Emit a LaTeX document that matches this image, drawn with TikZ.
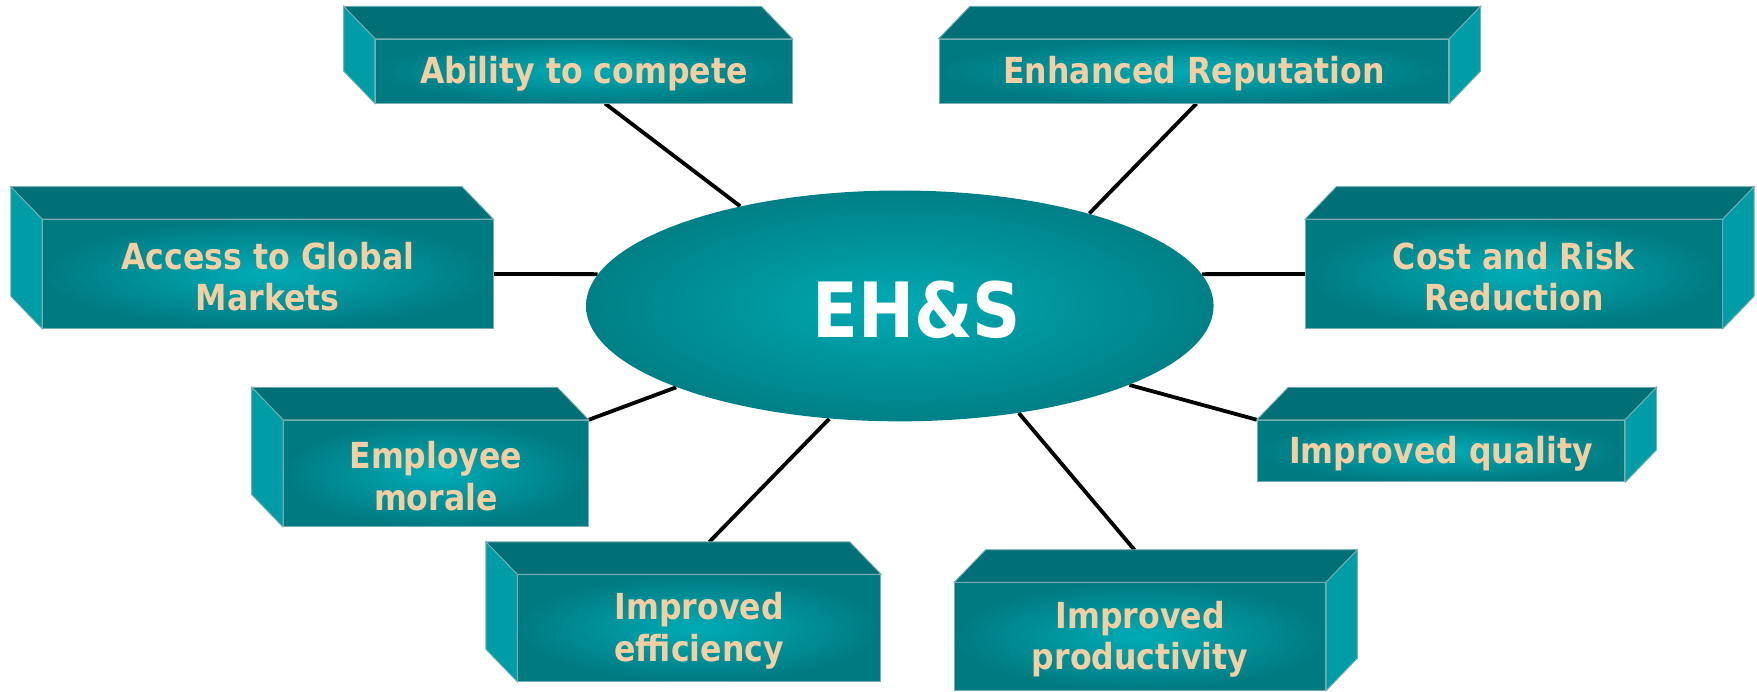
\documentclass[tikz,border=0pt]{standalone}
\usepackage{fontspec}
\newfontfamily\boxfont[FakeStretch=0.88]{DejaVu Sans}
\usetikzlibrary{shapes.geometric,calc,backgrounds}
\definecolor{topc}{RGB}{0,112,118}
\definecolor{sidec}{RGB}{0,157,166}
\definecolor{fcin}{RGB}{0,172,182}
\definecolor{fcout}{RGB}{0,122,129}
\definecolor{elin}{RGB}{0,170,180}
\definecolor{elout}{RGB}{0,128,134}
\definecolor{peach}{RGB}{245,207,164}
\definecolor{edgec}{RGB}{120,175,180}
\pgfdeclareradialshading{frontsh}{\pgfpointorigin}{color(0bp)=(fcin); color(25bp)=(fcout); color(50bp)=(fcout)}
\pgfdeclareradialshading{ellsh}{\pgfpointorigin}{color(0bp)=(elin); color(25bp)=(elout); color(50bp)=(elout)}
\tikzset{
  front/.style={rectangle, inner sep=0pt, shading=frontsh, draw=edgec, line width=0.4pt,
    text=peach, font=\boxfont\bfseries\fontsize{16}{18.5}\selectfont, align=center},
  topface/.style={fill=topc, draw=edgec, line width=0.4pt},
  sideface/.style={fill=sidec, draw=edgec, line width=0.4pt},
  link/.style={line width=1.7pt, black},
  hub/.style={ellipse, inner sep=0pt, shading=ellsh, minimum width=280pt, minimum height=103pt},
  hublabel/.style={text=white, font=\boxfont\bfseries\fontsize{34}{40}\selectfont, inner sep=0pt}
}
\newcommand\leftprism[6]{%
  \node[front, minimum width=#4*0.5pt, minimum height=#5*0.5pt] (#1) at (#2,#3) {\rule{0pt}{14.5pt}#6};
  \draw[topface] (#1.north west) -- ++(-14pt,14.5pt) -- ([shift={(-14pt,14.5pt)}]#1.north east) -- (#1.north east) -- cycle;
  \draw[sideface] (#1.north west) -- ++(-14pt,14.5pt) -- ([shift={(-14pt,14.5pt)}]#1.south west) -- (#1.south west) -- cycle;
}
\newcommand\rightprism[6]{%
  \node[front, minimum width=#4*0.5pt, minimum height=#5*0.5pt] (#1) at (#2,#3) {\rule{0pt}{14.5pt}#6};
  \draw[topface] (#1.north east) -- ++(14pt,14.5pt) -- ([shift={(14pt,14.5pt)}]#1.north west) -- (#1.north west) -- cycle;
  \draw[sideface] (#1.north east) -- ++(14pt,14.5pt) -- ([shift={(14pt,14.5pt)}]#1.south east) -- (#1.south east) -- cycle;
}
\begin{document}
\begin{tikzpicture}[x=0.5pt,y=-0.5pt]
\useasboundingbox (0,0) rectangle (1568,617);
\clip (0,0) rectangle (1568,617);
\leftprism{abil}{521}{63.5}{372}{57}{Ability to compete}
\rightprism{rep}{1065.5}{63.5}{455}{57}{Enhanced Reputation}
\leftprism{acc}{239}{244.5}{402}{97}{Access to Global\\Markets}
\rightprism{cost}{1351}{244.5}{372}{97}{Cost and Risk\\Reduction}
\leftprism{emp}{389}{422.5}{272}{95}{Employee\\morale}
\rightprism{qual}{1286}{402.5}{328}{55}{Improved quality}
\leftprism{eff}{624}{560.5}{324}{95}{Improved\\efficiency}
\rightprism{prod}{1017.5}{568}{331}{96}{Improved\\productivity}
\node[hub] (hub) at (803,273) {};
\node[hublabel] (hubtext) at (818,276) {EH\&S};
\begin{scope}[on background layer]
  \draw[link] (hub.148.7) -- ($(abil.south west)!0.551!(abil.south east)$);
  \draw[link] (hub.26.4) -- ($(rep.south west)!0.505!(rep.south east)$);
  \draw[link] (hub.174) -- (acc.east);
  \draw[link] (hub.6) -- (cost.west);
  \draw[link] (hub.200.5) -- (emp.north east);
  \draw[link] (hub.341.5) -- (qual.north west);
  \draw[link] (hub.238.3) -- ($(eff.north west)!0.614!(eff.north east)+(-14pt,14.5pt)$);
  \draw[link] (hub.318.9) -- ($(prod.north west)!0.40!(prod.north east)+(14pt,14.5pt)$);
\end{scope}
\end{tikzpicture}
\end{document}
